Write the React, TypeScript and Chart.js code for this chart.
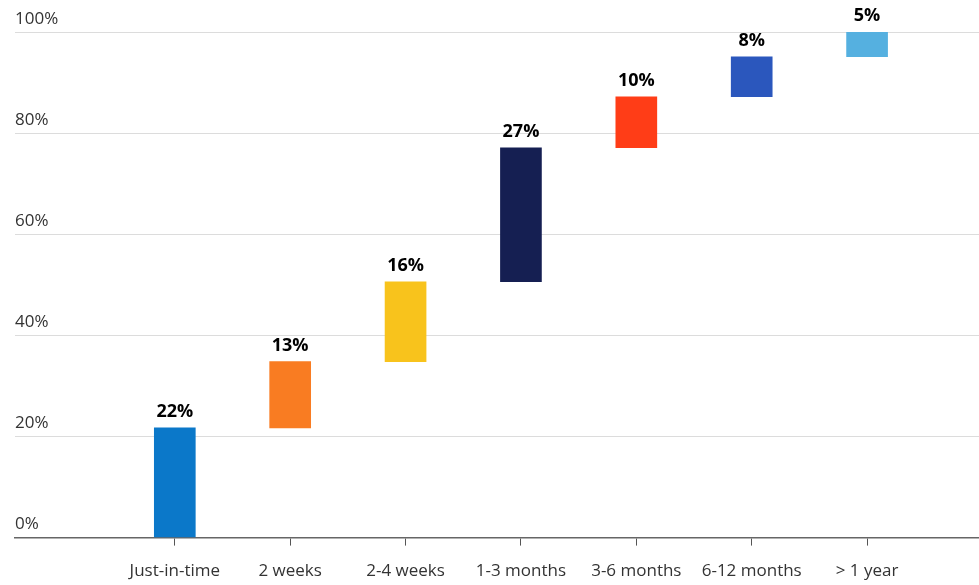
import React, { useEffect, useRef } from "react";
import { Chart, registerables } from "chart.js";

Chart.register(...registerables);

const categories = ["Just-in-time", "2 weeks", "2-4 weeks", "1-3 months", "3-6 months", "6-12 months", "> 1 year"];
const barStart = [0, 21.7, 34.8, 50.6, 77.1, 87.2, 95.1];
const barEnd = [21.7, 34.8, 50.6, 77.1, 87.2, 95.1, 100];
const shareLabels = ["22%", "13%", "16%", "27%", "10%", "8%", "5%"];
const barColors = ["#0b78c9", "#f97c22", "#f8c31c", "#151f52", "#ff3d17", "#2b57bd", "#55b0e0"];
const yTicks = [0, 20, 40, 60, 80, 100];

const FONT = "'Open Sans', 'Noto Sans', sans-serif";

const barLabelPlugin = {
  id: "barLabels",
  afterDatasetsDraw(chart: any) {
    const ctx = chart.ctx;
    const meta = chart.getDatasetMeta(0);
    ctx.save();
    ctx.font = `bold 18px ${FONT}`;
    ctx.fillStyle = "#000";
    ctx.textAlign = "center";
    ctx.textBaseline = "alphabetic";
    meta.data.forEach((el: any, i: number) => {
      ctx.fillText(shareLabels[i], el.x, el.y - 11);
    });
    ctx.restore();
  },
};

export default function App() {
  const ref = useRef<HTMLCanvasElement>(null);
  useEffect(() => {
    if (!ref.current) return;
    const chart = new Chart(ref.current, {
      type: "bar",
      data: {
        datasets: [
          {
            data: categories.map((_, i) => ({ x: i, y: [barStart[i], barEnd[i]] })) as any,
            backgroundColor: barColors,
            barThickness: 41,
            borderWidth: 0,
          },
        ],
      },
      options: {
        animation: false,
        responsive: true,
        maintainAspectRatio: false,
        layout: { padding: { top: 32, left: 15, right: 0, bottom: -11 } },
        plugins: { legend: { display: false }, tooltip: { enabled: false } },
        scales: {
          x: {
            type: "linear",
            offset: false,
            min: -1.385,
            max: 6.97,
            afterBuildTicks: (scale: any) => {
              scale.ticks = categories.map((_, i) => ({ value: i }));
            },
            ticks: {
              autoSkip: false,
              maxRotation: 0,
              padding: 15,
              color: "#333",
              font: { family: FONT, size: 17 },
              callback: (v: any) => categories[v as number],
            },
            grid: { offset: false, drawOnChartArea: false, drawTicks: true, tickLength: 8, color: "#555" },
            border: { display: true, color: "#666", width: 1.5 },
          },
          y: {
            min: 0,
            max: 100,
            afterBuildTicks: (scale: any) => {
              scale.ticks = yTicks.map((v) => ({ value: v }));
            },
            ticks: {
              mirror: true,
              padding: 0,
              labelOffset: -13,
              color: "#333",
              font: { family: FONT, size: 17 },
              callback: (v: any) => v + "%",
            },
            grid: { color: "#dcdcdc", drawTicks: false, lineWidth: 1 },
            border: { display: false },
          },
        },
      },
      plugins: [barLabelPlugin],
    });
    return () => chart.destroy();
  }, []);
  return (
    <div style={{ position: "absolute", left: 0, top: 0, width: 979, height: 585 }}>
      <canvas ref={ref} />
    </div>
  );
}
